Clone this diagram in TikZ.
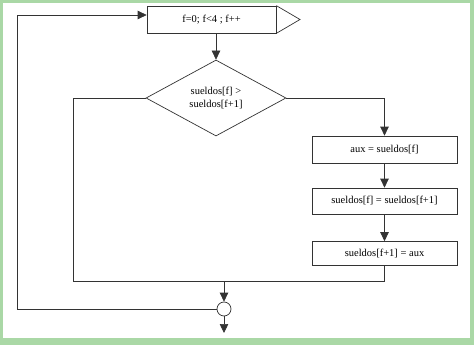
\documentclass[tikz,border=0pt]{standalone}
\usepackage{fontspec}
\setmainfont{Liberation Serif}
\usetikzlibrary{arrows.meta,shapes.geometric}
\definecolor{framegreen}{RGB}{170,216,166}
\begin{document}
\begin{tikzpicture}[x=1pt,y=-1pt,
  line width=0.7pt,
  every node/.style={font=\fontsize{10.5}{13}\selectfont, text=black},
  link/.style={draw=black!80},
  flow/.style={link,-{Triangle[width=8.5pt,length=9pt]}},
  procbox/.style={draw=black!80, fill=white, minimum width=145pt, inner sep=0pt},
]
% frame
\fill[framegreen] (0,0) rectangle (474,345);
\fill[white] (3,3) rectangle (470,338);
\useasboundingbox (0,0) rectangle (474,345);

% loop header with its pointer
\node[draw=black!80, fill=white, minimum width=129pt, minimum height=27pt, inner sep=0pt] (loop) at (211.5,19.5) {f=0; f<4 ; f++};
\draw[link] (loop.north east) -- (300,19.5) -- (loop.south east);

% decision
\node[draw=black!80, diamond, minimum width=140pt, minimum height=76pt, inner sep=0pt, align=center] (dec) at (216,98) {sueldos[f] >\\sueldos[f+1]};

% swap steps
\node[procbox, minimum height=27pt] (b1) at (384.5,149.5) {aux = sueldos[f]};
\node[procbox, minimum height=26pt] (b2) at (384.5,201) {sueldos[f] = sueldos[f+1]};
\node[procbox, minimum height=24pt] (b3) at (384.5,253.5) {sueldos[f+1] = aux};

% junction
\node[draw=black!80, fill=white, circle, minimum size=14pt, inner sep=0pt] (join) at (224,309) {};

\coordinate (jl) at (73,281);
\coordinate (jr) at (b3.south |- jl);
\coordinate (jm) at (join.north |- jl);
\coordinate (back) at (17,15);
\coordinate (out) at (224,333);

\draw[flow] (dec.north |- loop.south) -- (dec.north);
\draw[flow] (dec.east) -| (b1.north);
\draw[flow] (b1.south) -- (b2.north);
\draw[flow] (b2.south) -- (b3.north);
\draw[link] (dec.west) -| (jl) -- (jr) -- (b3.south);
\draw[flow] (jm) -- (join.north);
\draw[flow] (join.south) -- (out);
\draw[flow] (join.west) -| (back) -- (back -| loop.west);
\end{tikzpicture}
\end{document}
